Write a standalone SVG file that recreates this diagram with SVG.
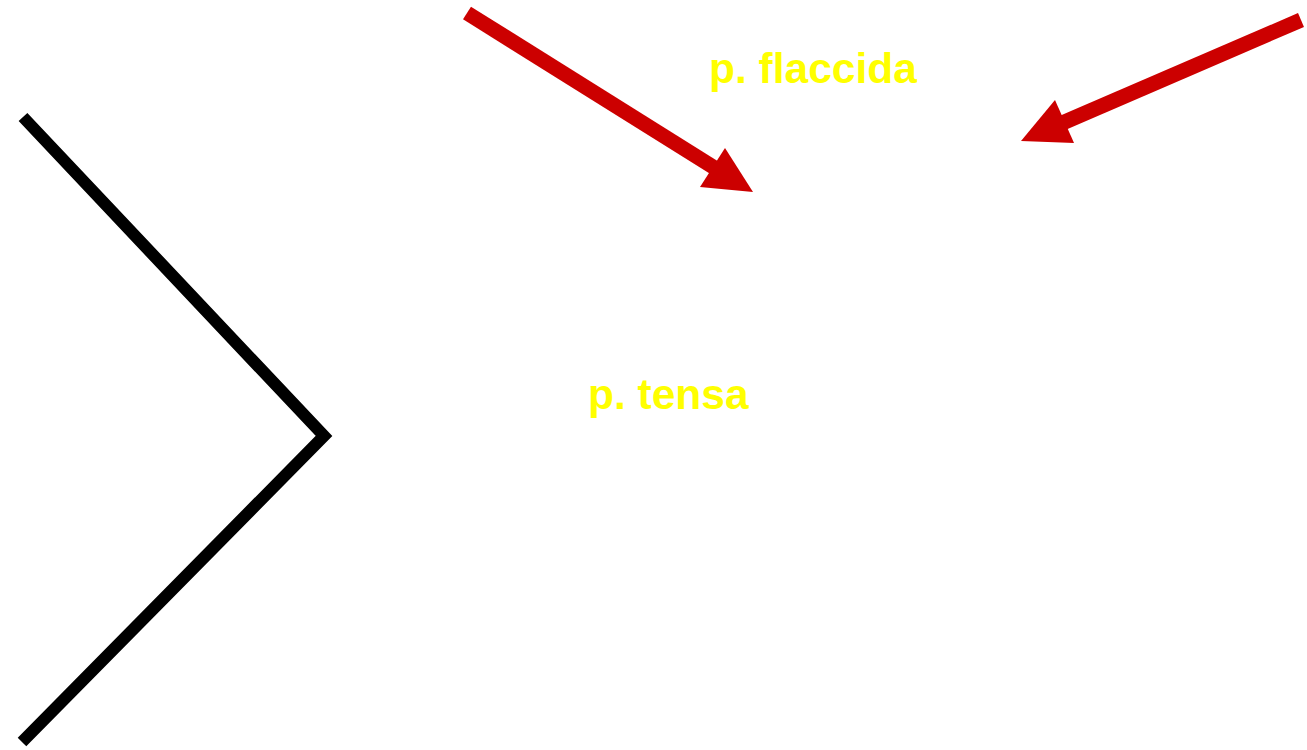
<svg xmlns="http://www.w3.org/2000/svg" width="1307" height="750" viewBox="0 0 1307 750">
<style>
.lbl{font-family:"Liberation Sans",Arial,sans-serif;font-weight:bold;font-size:42.5px;fill:#ffff00}
.arr{stroke:#cc0000;stroke-width:15;fill:none}
.head{fill:#cc0000}
</style>
<rect width="1307" height="750" fill="#ffffff"/>
<g id="connectors">
<g id="arrow1">
<line class="arr" x1="467" y1="13" x2="718" y2="170"/>
<polygon class="head" points="753,192 700,187 725,148"/>
</g>
<g id="arrow2">
<line class="arr" x1="1301" y1="20" x2="1060" y2="124"/>
<polygon class="head" points="1021,141 1055,100 1074,143"/>
</g>
<g id="chevron">
<polyline points="23,117 324,436 22,742" fill="none" stroke="#000000" stroke-width="12" stroke-linejoin="miter"/>
</g>
</g>
<g id="label-flaccida"><text class="lbl" x="709" y="83">p. flaccida</text></g>
<g id="label-tensa"><text class="lbl" x="588" y="409">p. tensa</text></g>
</svg>
